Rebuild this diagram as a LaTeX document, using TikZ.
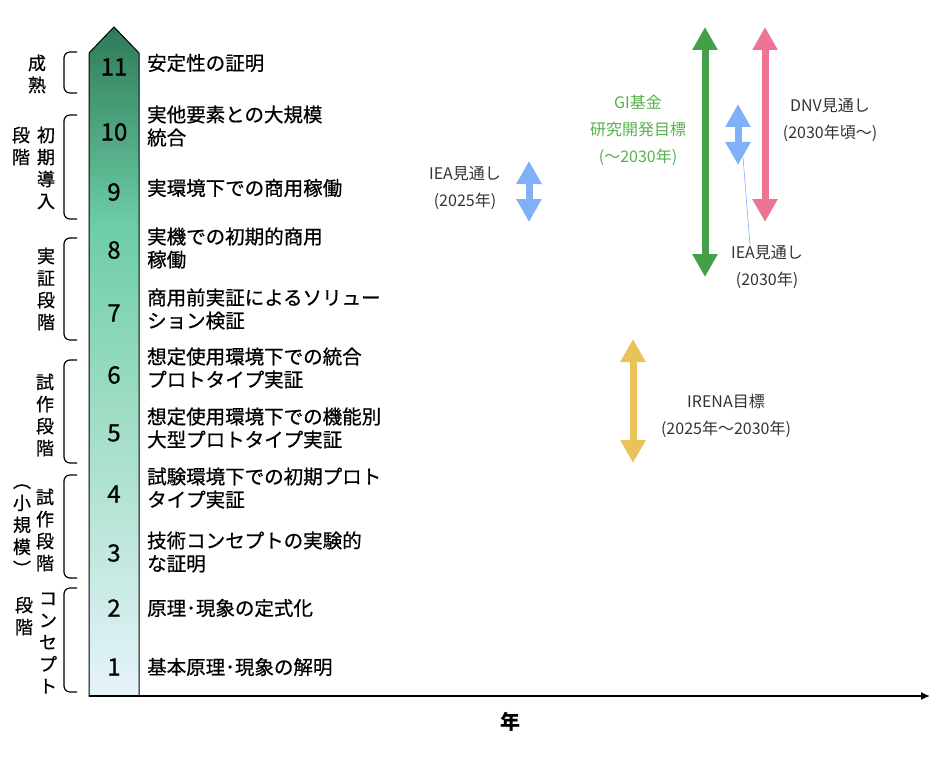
\documentclass[tikz,border=0pt]{standalone}
\usepackage{fontspec}
\setmainfont{Noto Sans CJK JP}
\newfontfamily\medfont[FakeBold=0.7]{Noto Sans CJK JP}
\usetikzlibrary{arrows.meta}
\definecolor{trltop}{HTML}{2E7B58}
\definecolor{trlmid}{HTML}{6DCEA7}
\definecolor{trlmidb}{HTML}{92D9BB}
\definecolor{trlbot}{HTML}{E6F3FB}
\definecolor{ieablue}{HTML}{80B0F7}
\definecolor{gigreen}{HTML}{43A047}
\definecolor{gitext}{HTML}{55B04D}
\definecolor{dnvpink}{HTML}{EC7595}
\definecolor{irenayel}{HTML}{E9C25A}
\definecolor{lbltext}{HTML}{333333}
\pgfdeclareverticalshading{trlgrad}{100bp}{color(0bp)=(trlbot); color(25bp)=(trlbot); color(50bp)=(trlmidb); color(60bp)=(trlmid); color(75bp)=(trltop); color(100bp)=(trltop)}
\tikzset{
  nivel/.style={font=\medfont\fontsize{24}{24}\selectfont, inner sep=0pt},
  desc/.style={font=\medfont\fontsize{19.5}{23}\selectfont, anchor=west, align=left, inner sep=0pt},
  etapa/.style={font=\medfont\fontsize{18}{22}\selectfont, align=center, inner sep=0pt},
  llave/.style={line width=1.2pt, rounded corners=6pt},
  flecha/.style={line width=7pt, {Triangle[width=24pt,length=23pt]}-{Triangle[width=24pt,length=23pt]}},
  rotulo/.style={font=\fontsize{16}{27}\selectfont, align=center, text=lbltext, inner sep=0pt}
}
\begin{document}
\begin{tikzpicture}[x=1pt,y=-1pt]
    \useasboundingbox (0,0) rectangle (941,762);
    % Columna TRL
    \path[draw, line width=1pt, shading=trlgrad] (89,696) -- (89,53) -- (114,27) -- (139,53) -- (139,696) -- cycle;
    % Eje de tiempo
    \coordinate (ejeIni) at (89,696);
    \coordinate (ejeFin) at (930,696);
    \draw[line width=1.5pt, -{Latex[length=9pt,width=8pt]}] (ejeIni) -- (ejeFin);
    \node[font=\fontsize{20}{20}\selectfont\bfseries, inner sep=0pt] (anio) at (510,722) {年};
    % Niveles
    \foreach \n/\yy in {11/67,10/132,9/192,8/250,7/313,6/375,5/433,4/494,3/553,2/608,1/667}
        \node[nivel] (n\n) at (114,\yy) {\n};
    % Descripciones
    \node[desc] (d11) at (147,63) {安定性の証明};
    \node[desc] (d10) at (147,126) {実他要素との大規模\\統合};
    \node[desc] (d9) at (147,188) {実環境下での商用稼働};
    \node[desc] (d8) at (147,248) {実機での初期的商用\\稼働};
    \node[desc] (d7) at (147,309) {商用前実証によるソリュー\\ション検証};
    \node[desc] (d6) at (147,368) {想定使用環境下での統合\\プロトタイプ実証};
    \node[desc] (d5) at (147,428) {想定使用環境下での機能別\\大型プロトタイプ実証};
    \node[desc] (d4) at (147,488) {試験環境下での初期プロト\\タイプ実証};
    \node[desc] (d3) at (147,552) {技術コンセプトの実験的\\な証明};
    \node[desc] (d2) at (147,608) {原理･現象の定式化};
    \node[desc] (d1) at (147,667) {基本原理･現象の解明};
    % Llaves de etapas
    \draw[llave] (77,52) -- (64,52) -- (64,93) -- (77,93);
    \draw[llave] (77,115) -- (64,115) -- (64,219) -- (77,219);
    \draw[llave] (77,238) -- (64,238) -- (64,340) -- (77,340);
    \draw[llave] (77,360) -- (64,360) -- (64,463) -- (77,463);
    \draw[llave] (77,475) -- (64,475) -- (64,578) -- (77,578);
    \draw[llave] (77,588) -- (64,588) -- (64,692) -- (77,692);
    % Etapas (vertical)
    \node[etapa] (e11) at (37,74) {成\\熟};
    \node[etapa] (e10a) at (46,168) {初\\期\\導\\入};
    \node[etapa] (e10b) at (21,146) {段\\階};
    \node[etapa] (e8) at (46,289) {実\\証\\段\\階};
    \node[etapa] (e6) at (45,415) {試\\作\\段\\階};
    \node[etapa] (e4a) at (45,530) {試\\作\\段\\階};
    \node[etapa] (e4b) at (22,530) {︵\\小\\規\\模\\︶};
    \node[etapa] (e2a) at (48,643) {コ\\ン\\セ\\プ\\ト};
    \node[etapa] (e2b) at (24,616) {段\\階};
    % Flechas de metas
    \coordinate (iea25top) at (529,161);
    \coordinate (iea25bot) at (529,222);
    \coordinate (gitop) at (705,27);
    \coordinate (gibot) at (705,277);
    \coordinate (iea30top) at (738,104);
    \coordinate (iea30bot) at (738,165);
    \coordinate (dnvtop) at (765,27);
    \coordinate (dnvbot) at (765,222);
    \coordinate (irenatop) at (633,339);
    \coordinate (irenabot) at (633,463);
    \draw[flecha, ieablue] (iea25top) -- (iea25bot);
    \draw[flecha, gigreen] (gitop) -- (gibot);
    \draw[flecha, ieablue] (iea30top) -- (iea30bot);
    \draw[flecha, dnvpink] (dnvtop) -- (dnvbot);
    \draw[flecha, irenayel] (irenatop) -- (irenabot);
    % Rotulos
    \node[rotulo] (liea25) at (465,188) {IEA見通し\\(2025年)};
    \node[rotulo, text=gitext] (lgi) at (638,130) {GI基金\\研究開発目標\\(〜2030年)};
    \node[rotulo] (ldnv) at (830,120) {DNV見通し\\(2030年頃〜)};
    \node[rotulo] (liea30) at (767,267) {IEA見通し\\(2030年)};
    \node[rotulo] (lirena) at (726,416) {IRENA目標\\(2025年〜2030年)};
    \coordinate (iea30pie) at (743,157);
    \draw[ieablue, line width=0.6pt] (iea30pie) -- ([xshift=-17pt]liea30.north);
\end{tikzpicture}
\end{document}
